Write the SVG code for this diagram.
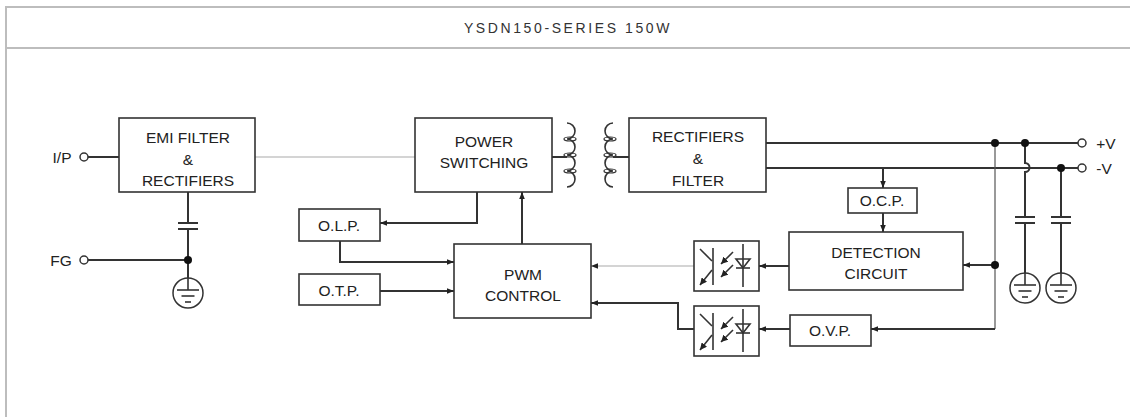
<svg xmlns="http://www.w3.org/2000/svg" width="1130" height="417" viewBox="0 0 1130 417">
<defs>
<style>
.frame{stroke:#bdbdbd;stroke-width:2;fill:none}
.box{fill:#fff;stroke:#333;stroke-width:1.6}
.t{font-family:"Liberation Sans",Arial,sans-serif;font-size:15.5px;fill:#222;text-anchor:middle}
.title{font-family:"Liberation Sans",Arial,sans-serif;font-size:14px;fill:#333;text-anchor:middle;letter-spacing:2.6px}
.w{stroke:#333;stroke-width:2;fill:none}
.thin{stroke:#555;stroke-width:1.2;fill:none}
.gray{stroke:#aaa;stroke-width:1.2;fill:none}
.dot{fill:#111}
.term{fill:#fff;stroke:#333;stroke-width:1.5}
.sym{stroke:#333;stroke-width:1.6;fill:none}
.loop{stroke:#333;stroke-width:1.2;fill:none}
</style>
<marker id="ah" viewBox="0 0 10 10" refX="10" refY="5" markerWidth="7" markerHeight="7" markerUnits="userSpaceOnUse" orient="auto">
<path d="M0,1 L10,5 L0,9 z" fill="#222"/>
</marker>
<marker id="sa" viewBox="0 0 10 10" refX="10" refY="5" markerWidth="7" markerHeight="7" markerUnits="userSpaceOnUse" orient="auto">
<path d="M0,0 L10,5 L0,10 z" fill="#222"/>
</marker>
<g id="opto-sym">
<rect class="box" x="0" y="0" width="65" height="50"/>
<line class="sym" x1="19" y1="7" x2="19" y2="44"/>
<line class="sym" x1="6" y1="8" x2="18" y2="20"/>
<line class="sym" x1="18" y1="29" x2="6" y2="44" marker-end="url(#sa)"/>
<line class="sym" x1="39" y1="11" x2="27" y2="23" marker-end="url(#sa)"/>
<line class="sym" x1="39" y1="24" x2="27" y2="36" marker-end="url(#sa)"/>
<line class="sym" x1="49" y1="3" x2="49" y2="46"/>
<path class="sym" d="M42,18 L56,18 L49,27 z"/>
<line class="sym" x1="42" y1="27" x2="56" y2="27"/>
</g>
<g id="gnd">
<circle r="15" fill="#fff" stroke="#333" stroke-width="1.5"/>
<line class="sym" x1="0" y1="-15" x2="0" y2="-3"/>
<line class="sym" x1="-11" y1="-3" x2="11" y2="-3"/>
<line class="sym" x1="-6.5" y1="3" x2="6.5" y2="3"/>
<line class="sym" x1="-3" y1="9" x2="3" y2="9"/>
</g>
</defs>
<rect width="1130" height="417" fill="#fff"/>
<g id="frame">
<line class="frame" x1="6" y1="7" x2="1130" y2="7"/>
<line class="frame" x1="6" y1="6" x2="6" y2="417"/>
<line class="frame" x1="6" y1="48" x2="1130" y2="48"/>
<text class="title" x="568" y="33">YSDN150-SERIES 150W</text>
</g>
<g id="connectors">
<line class="w" x1="88" y1="157" x2="119" y2="157"/>
<line class="gray" x1="255" y1="157" x2="415" y2="157"/>
<line class="w" x1="188" y1="192" x2="188" y2="223"/>
<line class="w" x1="178" y1="223" x2="198" y2="223"/>
<line class="w" x1="178" y1="229" x2="198" y2="229"/>
<line class="w" x1="188" y1="229" x2="188" y2="278"/>
<line class="w" x1="88" y1="260" x2="188" y2="260"/>
<line class="w" x1="552" y1="157" x2="567" y2="157"/>
<line class="w" x1="613" y1="157" x2="629" y2="157"/>
<path class="w" d="M477,192 V223 H380" marker-end="url(#ah)"/>
<line class="w" x1="522" y1="244" x2="522" y2="192" marker-end="url(#ah)"/>
<path class="w" d="M340,241 V262 H454" marker-end="url(#ah)"/>
<line class="w" x1="380" y1="291" x2="454" y2="291" marker-end="url(#ah)"/>
<line class="gray" x1="694" y1="266" x2="591" y2="266" marker-end="url(#ah)"/>
<path class="w" d="M694,329 H678 V303 H591" marker-end="url(#ah)"/>
<line class="w" x1="789" y1="266" x2="759" y2="266" marker-end="url(#ah)"/>
<line class="w" x1="790" y1="329" x2="759" y2="329" marker-end="url(#ah)"/>
<line class="w" x1="766" y1="143" x2="1078" y2="143"/>
<line class="w" x1="766" y1="168" x2="1078" y2="168"/>
<line class="w" x1="883" y1="168" x2="883" y2="188" marker-end="url(#ah)"/>
<line class="w" x1="883" y1="213" x2="883" y2="232" marker-end="url(#ah)"/>
<line class="thin" x1="995" y1="143" x2="995" y2="329"/>
<line class="w" x1="995" y1="265" x2="963" y2="265" marker-end="url(#ah)"/>
<line class="w" x1="995" y1="329" x2="871" y2="329" marker-end="url(#ah)"/>
<path class="w" d="M1025,143 V163 A4.5,4.5 0 0 1 1025,172 V217"/>
<line class="w" x1="1015" y1="217" x2="1035" y2="217"/>
<line class="w" x1="1015" y1="223" x2="1035" y2="223"/>
<line class="w" x1="1025" y1="223" x2="1025" y2="273"/>
<line class="w" x1="1061" y1="168" x2="1061" y2="217"/>
<line class="w" x1="1051" y1="217" x2="1071" y2="217"/>
<line class="w" x1="1051" y1="223" x2="1071" y2="223"/>
<line class="w" x1="1061" y1="223" x2="1061" y2="273"/>
<circle class="dot" cx="188" cy="260" r="4"/>
<circle class="dot" cx="995" cy="143" r="4"/>
<circle class="dot" cx="1025" cy="143" r="4"/>
<circle class="dot" cx="1061" cy="168" r="4"/>
<circle class="dot" cx="995" cy="265" r="4"/>
</g>
<g id="ip">
<text class="t" x="62" y="163">I/P</text>
<circle class="term" cx="84" cy="157" r="4"/>
</g>
<g id="fg">
<text class="t" x="61" y="266">FG</text>
<circle class="term" cx="84" cy="260" r="4"/>
</g>
<g id="gnd1"><use href="#gnd" x="188" y="293"/></g>
<g id="emi">
<rect class="box" x="119" y="118" width="136" height="74"/>
<text class="t" x="188" y="143">EMI FILTER</text>
<text class="t" x="188" y="165">&amp;</text>
<text class="t" x="188" y="186">RECTIFIERS</text>
</g>
<g id="power">
<rect class="box" x="415" y="118" width="137" height="74"/>
<text class="t" x="484" y="147">POWER</text>
<text class="t" x="484" y="168">SWITCHING</text>
</g>
<g id="transformer">
<path class="sym" d="M567,123 A8,8 0 0 1 567,139 A8,8 0 0 1 567,155 A8,8 0 0 1 567,171 A8,8 0 0 1 567,187"/>
<ellipse class="loop" cx="570" cy="139" rx="6" ry="2"/>
<ellipse class="loop" cx="570" cy="155" rx="6" ry="2"/>
<ellipse class="loop" cx="570" cy="171" rx="6" ry="2"/>
<path class="sym" d="M613,123 A8,8 0 0 0 613,139 A8,8 0 0 0 613,155 A8,8 0 0 0 613,171 A8,8 0 0 0 613,187"/>
<ellipse class="loop" cx="610" cy="139" rx="6" ry="2"/>
<ellipse class="loop" cx="610" cy="155" rx="6" ry="2"/>
<ellipse class="loop" cx="610" cy="171" rx="6" ry="2"/>
</g>
<g id="rect">
<rect class="box" x="629" y="118" width="137" height="74"/>
<text class="t" x="698" y="142">RECTIFIERS</text>
<text class="t" x="698" y="164">&amp;</text>
<text class="t" x="698" y="186">FILTER</text>
</g>
<g id="olp">
<rect class="box" x="299" y="209" width="81" height="32"/>
<text class="t" x="339" y="231">O.L.P.</text>
</g>
<g id="otp">
<rect class="box" x="299" y="274" width="81" height="31"/>
<text class="t" x="339" y="296">O.T.P.</text>
</g>
<g id="pwm">
<rect class="box" x="454" y="244" width="137" height="74"/>
<text class="t" x="523" y="280">PWM</text>
<text class="t" x="523" y="301">CONTROL</text>
</g>
<g id="opto1"><use href="#opto-sym" x="694" y="241"/></g>
<g id="opto2"><use href="#opto-sym" x="694" y="306"/></g>
<g id="ocp">
<rect class="box" x="848" y="188" width="69" height="25"/>
<text class="t" x="882" y="206">O.C.P.</text>
</g>
<g id="detection">
<rect class="box" x="789" y="232" width="174" height="58"/>
<text class="t" x="876" y="258">DETECTION</text>
<text class="t" x="876" y="279">CIRCUIT</text>
</g>
<g id="ovp">
<rect class="box" x="790" y="315" width="81" height="31"/>
<text class="t" x="830" y="336">O.V.P.</text>
</g>
<g id="gnd2"><use href="#gnd" x="1025" y="288"/></g>
<g id="gnd3"><use href="#gnd" x="1061" y="288"/></g>
<g id="vplus">
<circle class="term" cx="1082" cy="143" r="4"/>
<text class="t" x="1106" y="149">+V</text>
</g>
<g id="vminus">
<circle class="term" cx="1082" cy="168" r="4"/>
<text class="t" x="1104" y="174">-V</text>
</g>
</svg>
